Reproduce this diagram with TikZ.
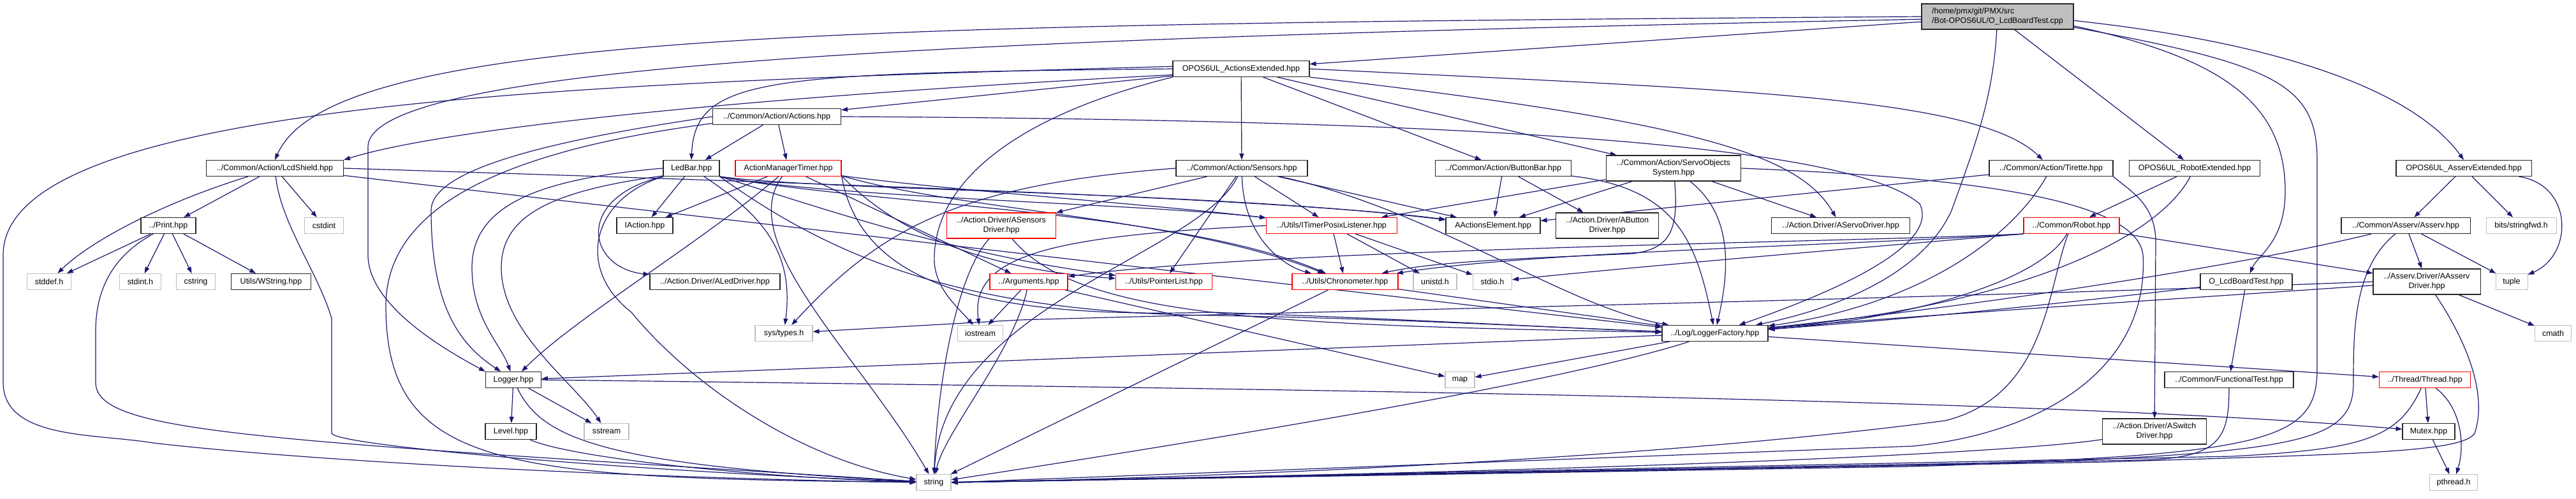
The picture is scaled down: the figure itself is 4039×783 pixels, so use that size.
\documentclass[tikz,border=0pt]{standalone}
\usepackage{fontspec}
\setmainfont{Liberation Sans}
\usepackage{tikz}
\usetikzlibrary{arrows.meta,backgrounds}
\definecolor{incblue}{RGB}{25,25,112}
\definecolor{sysgray}{RGB}{191,191,191}
\definecolor{truncred}{RGB}{255,0,0}
\tikzset{
  hdr/.style={draw=black!85,line width=1.1pt,fill=white,minimum height=25pt,inner sep=2pt,align=center,font=\fontsize{12.5}{14.5}\selectfont},
  trunc/.style={hdr,draw=truncred},
  sysh/.style={hdr,draw=sysgray},
  rootf/.style={hdr,fill=sysgray,align=left,minimum height=40pt},
  tall/.style={minimum height=40pt},
  inc/.style={-{Triangle[length=10pt,width=7pt]},line width=1.2pt,draw=incblue}
}

\begin{document}
\begin{tikzpicture}[x=1pt,y=-1pt]
\useasboundingbox (0,0) rectangle (4039,783);
\node[rootf,minimum width=238pt] (R) at (3132,26) {/home/pmx/git/PMX/src\\/Bot-OPOS6UL/O\_LcdBoardTest.cpp};
\node[hdr,minimum width=214pt] (AE) at (1946,108) {OPOS6UL\_ActionsExtended.hpp};
\node[hdr,minimum width=201pt] (AC) at (1218,183) {../Common/Action/Actions.hpp};
\node[hdr,minimum width=215pt] (LS) at (431,264) {../Common/Action/LcdShield.hpp};
\node[hdr,minimum width=88pt] (LB) at (1084,264) {LedBar.hpp};
\node[trunc,minimum width=166pt] (AMT) at (1236,264) {ActionManagerTimer.hpp};
\node[hdr,minimum width=206pt] (SEN) at (1947,264) {../Common/Action/Sensors.hpp};
\node[hdr,minimum width=213pt] (BB) at (2357,264) {../Common/Action/ButtonBar.hpp};
\node[hdr,tall,minimum width=211pt] (SOS) at (2624,264) {../Common/Action/ServoObjects\\System.hpp};
\node[hdr,minimum width=194pt] (TIR) at (3216,264) {../Common/Action/Tirette.hpp};
\node[hdr,minimum width=205pt] (RE) at (3441,264) {OPOS6UL\_RobotExtended.hpp};
\node[hdr,minimum width=212pt] (ASE) at (3863,264) {OPOS6UL\_AsservExtended.hpp};
\node[hdr,minimum width=86pt] (PR) at (264,354) {../Print.hpp};
\node[sysh,minimum width=61pt] (CSTDINT) at (508,354) {cstdint};
\node[hdr,minimum width=88pt] (IA) at (1011,354) {IAction.hpp};
\node[trunc,tall,minimum width=171pt] (ASENS) at (1570,354) {../Action.Driver/ASensors\\Driver.hpp};
\node[trunc,minimum width=205pt] (ITP) at (2088,354) {../Utils/ITimerPosixListener.hpp};
\node[hdr,minimum width=148pt] (AAE) at (2341,354) {AActionsElement.hpp};
\node[hdr,tall,minimum width=161pt] (ABUT) at (2520,354) {../Action.Driver/AButton\\Driver.hpp};
\node[hdr,minimum width=217pt] (ASD) at (2886,354) {../Action.Driver/AServoDriver.hpp};
\node[trunc,minimum width=150pt] (RB) at (3248,354) {../Common/Robot.hpp};
\node[hdr,minimum width=202pt] (AS) at (3772,354) {../Common/Asserv/Asserv.hpp};
\node[sysh,minimum width=110pt] (BSF) at (3953,354) {bits/stringfwd.h};
\node[sysh,minimum width=69pt] (STDDEF) at (77,442) {stddef.h};
\node[sysh,minimum width=65pt] (STDINT) at (220,442) {stdint.h};
\node[sysh,minimum width=61pt] (CSTRING) at (307,442) {cstring};
\node[hdr,minimum width=125pt] (WSTR) at (425,442) {Utils/WString.hpp};
\node[hdr,minimum width=204pt] (ALED) at (1121,442) {../Action.Driver/ALedDriver.hpp};
\node[trunc,minimum width=122pt] (ARG) at (1613,442) {../Arguments.hpp};
\node[trunc,minimum width=151pt] (PL) at (1825,442) {../Utils/PointerList.hpp};
\node[trunc,minimum width=166pt] (CHR) at (2109,442) {../Utils/Chronometer.hpp};
\node[sysh,minimum width=68pt] (UNI) at (2250,442) {unistd.h};
\node[sysh,minimum width=61pt] (STDIO) at (2340,442) {stdio.h};
\node[hdr,minimum width=144pt] (OLT) at (3522,442) {O\_LcdBoardTest.hpp};
\node[hdr,tall,minimum width=168pt] (AAD) at (3805,442) {../Asserv.Driver/AAsserv\\Driver.hpp};
\node[sysh,minimum width=50pt] (TUP) at (3938,442) {tuple};
\node[sysh,minimum width=90pt] (SYS) at (1229,523) {sys/types.h};
\node[sysh,minimum width=71pt] (IOS) at (1537,523) {iostream};
\node[hdr,minimum width=166pt] (LF) at (2689,523) {../Log/LoggerFactory.hpp};
\node[sysh,minimum width=57pt] (CMATH) at (4003,523) {cmath};
\node[hdr,minimum width=87pt] (LG) at (805,596) {Logger.hpp};
\node[sysh,minimum width=46pt] (MAP) at (2289,596) {map};
\node[hdr,minimum width=202pt] (FT) at (3495,596) {../Common/FunctionalTest.hpp};
\node[trunc,minimum width=143pt] (THR) at (3802,596) {../Thread/Thread.hpp};
\node[hdr,minimum width=80pt] (LEV) at (801,677) {Level.hpp};
\node[sysh,minimum width=70pt] (SST) at (951,677) {sstream};
\node[hdr,tall,minimum width=163pt] (ASW) at (3378,677) {../Action.Driver/ASwitch\\Driver.hpp};
\node[hdr,minimum width=82pt] (MUT) at (3808,677) {Mutex.hpp};
\node[sysh,minimum width=54pt] (ST) at (1464,757) {string};
\node[sysh,minimum width=75pt] (PTH) at (3847,757) {pthread.h};

\begin{scope}[on background layer]
\draw[inc] (R) -- (AE);
\draw[inc] (R.west) .. controls (1300,38) and (520,50) .. (LS.north);
\draw[inc] (R.182) .. controls (1500,60) and (580,100) .. (577,230) -- (577,400) .. controls (577,480) and (700,550) .. (LG.north west);
\draw[inc] (R) -- (RE);
\draw[inc] (R.357) .. controls (3600,70) and (3790,150) .. (ASE.north);
\draw[inc] (R.353) .. controls (3480,90) and (3583,160) .. (3583,300) .. controls (3583,380) and (3540,400) .. (OLT);
\draw[inc] (R.352) .. controls (3560,100) and (3633,130) .. (3633,250) -- (3633,580) .. controls (3633,690) and (3560,715) .. (3000,730) -- (ST.east);
\draw[inc] (R) .. controls (3125,150) and (3100,220) .. (3060,330) .. controls (3020,420) and (2900,480) .. (LF);

\draw[inc] (AE) -- (AC);
\draw[inc] (AE.west) .. controls (1200,115) and (1090,120) .. (LB.north);
\draw[inc] (AE.185) .. controls (1200,150) and (700,200) .. (LS.north east);
\draw[inc] (AE.178) .. controls (900,130) and (5,160) .. (5,400) -- (5,600) .. controls (5,690) and (150,680) .. (240,695) .. controls (500,725) and (1000,750) .. (ST.west);
\draw[inc] (AE) -- (SEN);
\draw[inc] (AE) -- (BB);
\draw[inc] (AE) -- (SOS);
\draw[inc] (AE.south east) .. controls (2650,190) and (2820,240) .. (ASD);
\draw[inc] (AE.east) .. controls (2700,140) and (3100,150) .. (TIR);
\draw[inc] (AE.south west) .. controls (1600,180) and (1470,280) .. (1465,400) .. controls (1462,450) and (1500,480) .. (IOS);

\draw[inc] (AC) -- (LB);
\draw[inc] (AC) -- (AMT);
\draw[inc] (AC.west) .. controls (900,215) and (676,260) .. (676,330) .. controls (676,480) and (720,540) .. (LG);
\draw[inc] (AC.186) .. controls (800,235) and (605,320) .. (605,480) .. controls (605,740) and (800,750) .. (ST);
\draw[inc] (AC.east) .. controls (2300,188) and (2900,225) .. (3010,320) .. controls (3040,380) and (2900,450) .. (LF);

\draw[inc] (LS) -- (PR);
\draw[inc] (LS) -- (CSTDINT);
\draw[inc] (LS) .. controls (250,320) and (140,380) .. (STDDEF);
\draw[inc] (LS) .. controls (440,350) and (500,430) .. (520,500) -- (520,680) .. controls (530,700) and (1000,740) .. (ST);
\draw[inc] (LS.east) .. controls (1200,285) and (2000,310) .. (AAE);
\draw[inc] (LS.354) -- (LF);

\draw[inc] (PR) -- (STDDEF);
\draw[inc] (PR) -- (STDINT);
\draw[inc] (PR) -- (CSTRING);
\draw[inc] (PR) -- (WSTR);
\draw[inc] (PR) .. controls (180,400) and (150,450) .. (150,520) -- (150,600) .. controls (150,680) and (400,690) .. (ST);

\draw[inc] (LB) -- (IA);
\draw[inc] (LB.south west) .. controls (900,310) and (920,420) .. (ALED);
\draw[inc] (LB.west) .. controls (850,280) and (740,320) .. (740,420) .. controls (740,500) and (785,540) .. (LG);
\draw[inc] (LB.195) .. controls (860,300) and (786,340) .. (786,420) .. controls (786,520) and (900,600) .. (SST);
\draw[inc] (LB) .. controls (930,310) and (900,420) .. (990,490) .. controls (1080,600) and (1250,720) .. (ST);
\draw[inc] (LB) .. controls (1200,340) and (1245,400) .. (SYS);
\draw[inc] (LB.south east) .. controls (1300,300) and (1900,300) .. (AAE);
\draw[inc] (LB.south east) .. controls (1300,310) and (1800,320) .. (ITP);
\draw[inc] (LB.south east) .. controls (1350,320) and (1850,330) .. (CHR);
\draw[inc] (LB.south east) .. controls (1300,330) and (1500,400) .. (PL);
\draw[inc] (LB.south east) .. controls (1300,400) and (1500,490) .. (1900,495) .. controls (2200,500) and (2450,515) .. (LF);

\draw[inc] (AMT) -- (IA);
\draw[inc] (AMT) .. controls (1100,380) and (900,500) .. (LG);
\draw[inc] (AMT) .. controls (1150,380) and (1350,560) .. (ST);
\draw[inc] (AMT) -- (ARG);
\draw[inc] (AMT.352) .. controls (1500,300) and (1800,320) .. (ITP);
\draw[inc] (AMT.352) .. controls (1380,340) and (1500,420) .. (PL);
\draw[inc] (AMT.352) .. controls (1500,330) and (1850,340) .. (CHR);
\draw[inc] (AMT.352) .. controls (1350,450) and (1550,500) .. (1900,490) .. controls (2200,500) and (2450,515) .. (LF);

\draw[inc] (SEN) -- (ASENS);
\draw[inc] (SEN) -- (PL);
\draw[inc] (SEN) .. controls (1950,380) and (2020,420) .. (CHR);
\draw[inc] (SEN) -- (ITP);
\draw[inc] (SEN) -- (AAE);
\draw[inc] (SEN) .. controls (2250,330) and (2450,480) .. (LF);
\draw[inc] (SEN.west) .. controls (1500,290) and (1380,360) .. (SYS);
\draw[inc] (SEN) .. controls (1880,400) and (1480,480) .. (ST);

\draw[inc] (ASENS) .. controls (1690,500) and (2000,510) .. (LF);
\draw[inc] (ASENS) .. controls (1500,430) and (1470,600) .. (ST);

\draw[inc] (ITP) -- (CHR);
\draw[inc] (ITP) -- (UNI);
\draw[inc] (ITP) -- (STDIO);
\draw[inc] (ITP.west) .. controls (1650,370) and (1520,400) .. (IOS);

\draw[inc] (CHR) -- (ST);
\draw[inc] (CHR) -- (LF);

\draw[inc] (ARG) -- (IOS);
\draw[inc] (ARG) .. controls (1590,550) and (1480,680) .. (ST);
\draw[inc] (ARG) -- (MAP);

\draw[inc] (BB) -- (AAE);
\draw[inc] (BB) -- (ABUT);
\draw[inc] (BB) .. controls (2630,295) and (2660,380) .. (LF);

\draw[inc] (SOS) -- (AAE);
\draw[inc] (SOS) -- (ASD);
\draw[inc] (SOS) -- (ITP);
\draw[inc] (SOS) .. controls (2720,340) and (2710,430) .. (LF);
\draw[inc] (SOS) .. controls (2632,360) and (2620,390) .. (2560,398) .. controls (2400,405) and (2250,410) .. (CHR);
\draw[inc] (SOS.east) .. controls (3000,275) and (3350,300) .. (3360,400) .. controls (3370,580) and (3200,680) .. (3000,700) -- (ST.east);

\draw[inc] (TIR) -- (AAE);
\draw[inc] (TIR) .. controls (3150,380) and (3000,480) .. (LF);
\draw[inc] (TIR.south east) .. controls (3340,300) and (3380,320) .. (3380,380) -- (ASW);

\draw[inc] (RE) -- (RB);
\draw[inc] (RE) .. controls (3380,380) and (3150,480) .. (LF);

\draw[inc] (RB) -- (AAD);
\draw[inc] (RB) .. controls (3200,440) and (3000,500) .. (LF);
\draw[inc] (RB) .. controls (3210,450) and (3210,620) .. (3050,660) .. controls (2600,720) and (1900,750) .. (ST.east);
\draw[inc] (RB.south west) .. controls (2900,380) and (2000,390) .. (ARG);
\draw[inc] (RB.south west) .. controls (2900,385) and (2400,395) .. (CHR);
\draw[inc] (RB.south west) .. controls (2900,390) and (2550,420) .. (STDIO);

\draw[inc] (ASE) -- (AS);
\draw[inc] (ASE) -- (BSF);
\draw[inc] (ASE) .. controls (4035,290) and (4035,400) .. (TUP);

\draw[inc] (AS) -- (AAD);
\draw[inc] (AS) -- (TUP);
\draw[inc] (AS) .. controls (3500,420) and (3100,480) .. (LF);
\draw[inc] (AS) .. controls (3690,420) and (3690,520) .. (3690,600) .. controls (3690,700) and (3600,712) .. (3000,732) -- (ST.east);

\draw[inc] (AAD) -- (CMATH);
\draw[inc] (AAD) .. controls (3870,540) and (3900,620) .. (3880,680) .. controls (3860,710) and (3700,712) .. (3300,725) -- (ST.east);
\draw[inc] (AAD) .. controls (3400,470) and (3000,495) .. (LF);
\draw[inc] (AAD.west) .. controls (3000,470) and (2000,490) .. (1600,502) -- (SYS);

\draw[inc] (OLT) -- (FT);
\draw[inc] (OLT) .. controls (3200,480) and (3000,500) .. (LF);
\draw[inc] (FT) .. controls (3495,690) and (3480,720) .. (3350,722) -- (ST.east);
\draw[inc] (ASW) .. controls (3150,712) and (2500,740) .. (ST);

\draw[inc] (LF) -- (LG);
\draw[inc] (LF) -- (MAP);
\draw[inc] (LF) .. controls (2450,600) and (1900,690) .. (ST);
\draw[inc] (LF) -- (THR);
\draw[inc] (LG) -- (LEV);
\draw[inc] (LG) -- (SST);
\draw[inc] (LG) .. controls (850,690) and (950,730) .. (ST);
\draw[inc] (LG.east) .. controls (2000,610) and (3200,625) .. (MUT);
\draw[inc] (LEV) .. controls (900,720) and (1200,750) .. (ST);
\draw[inc] (THR) -- (MUT);
\draw[inc] (THR) .. controls (3860,640) and (3865,700) .. (PTH);
\draw[inc] (THR) .. controls (3760,690) and (3700,705) .. (3500,716) -- (ST.east);
\draw[inc] (MUT) -- (PTH);
\end{scope}
\end{tikzpicture}
\end{document}
